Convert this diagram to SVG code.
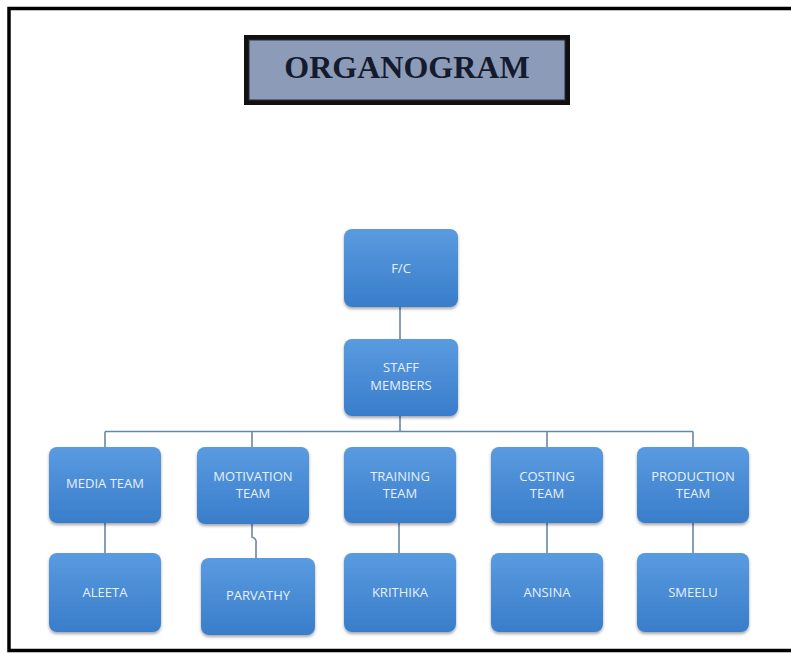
<svg xmlns="http://www.w3.org/2000/svg" width="791" height="654" viewBox="0 0 791 654">
<defs>
<linearGradient id="blue" x1="0" y1="0" x2="0" y2="1">
<stop offset="0" stop-color="#5a9be0"/>
<stop offset="1" stop-color="#397dca"/>
</linearGradient>
<filter id="sh" x="-10%" y="-10%" width="120%" height="130%">
<feDropShadow dx="0" dy="2" stdDeviation="1.5" flood-color="#000" flood-opacity="0.35"/>
</filter>
</defs>
<style>
.node rect{fill:url(#blue);filter:url(#sh);}
.node text{fill:#e8f0fa;font-family:"Open Sans","Liberation Sans",sans-serif;font-size:13px;text-anchor:middle;}
.conn{stroke:#6a86a6;stroke-width:1.6;fill:none;}
</style>
<rect width="791" height="654" fill="#ffffff"/>
<path d="M791 8.5 H9 V650.5 H791" fill="none" stroke="#000" stroke-width="3.5"/>
<g id="title">
<rect x="244" y="35" width="326" height="70" fill="#111" />
<rect x="249" y="40" width="316" height="60" fill="#8c9bb8" stroke="#2a2f3a" stroke-width="1"/>
<text x="407" y="78" font-family="'Liberation Serif',serif" font-weight="bold" font-size="32" fill="#151b2e" text-anchor="middle">ORGANOGRAM</text>
</g>
<g id="connectors">
<path class="conn" d="M400 307 V339"/>
<path class="conn" d="M400 416 V431.5"/>
<path class="conn" d="M105 431.5 H693"/>
<path class="conn" d="M105 431.5 V447"/>
<path class="conn" d="M252 431.5 V447"/>
<path class="conn" d="M547 431.5 V447"/>
<path class="conn" d="M693 431.5 V447"/>
<path class="conn" d="M105 523 V553"/>
<path class="conn" d="M252 523 V537 Q257 539 256 543 V558"/>
<path class="conn" d="M399 523 V553"/>
<path class="conn" d="M547 523 V553"/>
<path class="conn" d="M693 523 V553"/>
</g>
<g id="fic" class="node"><rect x="344" y="229" width="114" height="78" rx="8"/><text x="401" y="273">F/C</text></g>
<g id="staff" class="node"><rect x="344" y="339" width="114" height="77" rx="8"/><text x="401" y="372">STAFF</text><text x="401" y="390">MEMBERS</text></g>
<g id="media" class="node"><rect x="49" y="447" width="112" height="76" rx="8"/><text x="105" y="488">MEDIA TEAM</text></g>
<g id="motivation" class="node"><rect x="197" y="447" width="112" height="77" rx="8"/><text x="253" y="481">MOTIVATION</text><text x="253" y="498">TEAM</text></g>
<g id="training" class="node"><rect x="344" y="447" width="112" height="76" rx="8"/><text x="400" y="481">TRAINING</text><text x="400" y="498">TEAM</text></g>
<g id="costing" class="node"><rect x="491" y="447" width="112" height="76" rx="8"/><text x="547" y="481">COSTING</text><text x="547" y="498">TEAM</text></g>
<g id="production" class="node"><rect x="637" y="447" width="112" height="76" rx="8"/><text x="693" y="481">PRODUCTION</text><text x="693" y="498">TEAM</text></g>
<g id="aleeta" class="node"><rect x="49" y="553" width="112" height="79" rx="8"/><text x="105" y="597">ALEETA</text></g>
<g id="parvathy" class="node"><rect x="201" y="558" width="114" height="77" rx="8"/><text x="258" y="600">PARVATHY</text></g>
<g id="krithika" class="node"><rect x="344" y="553" width="112" height="79" rx="8"/><text x="400" y="597">KRITHIKA</text></g>
<g id="ansina" class="node"><rect x="491" y="553" width="112" height="79" rx="8"/><text x="547" y="597">ANSINA</text></g>
<g id="smeelu" class="node"><rect x="637" y="553" width="112" height="79" rx="8"/><text x="693" y="597">SMEELU</text></g>
</svg>
